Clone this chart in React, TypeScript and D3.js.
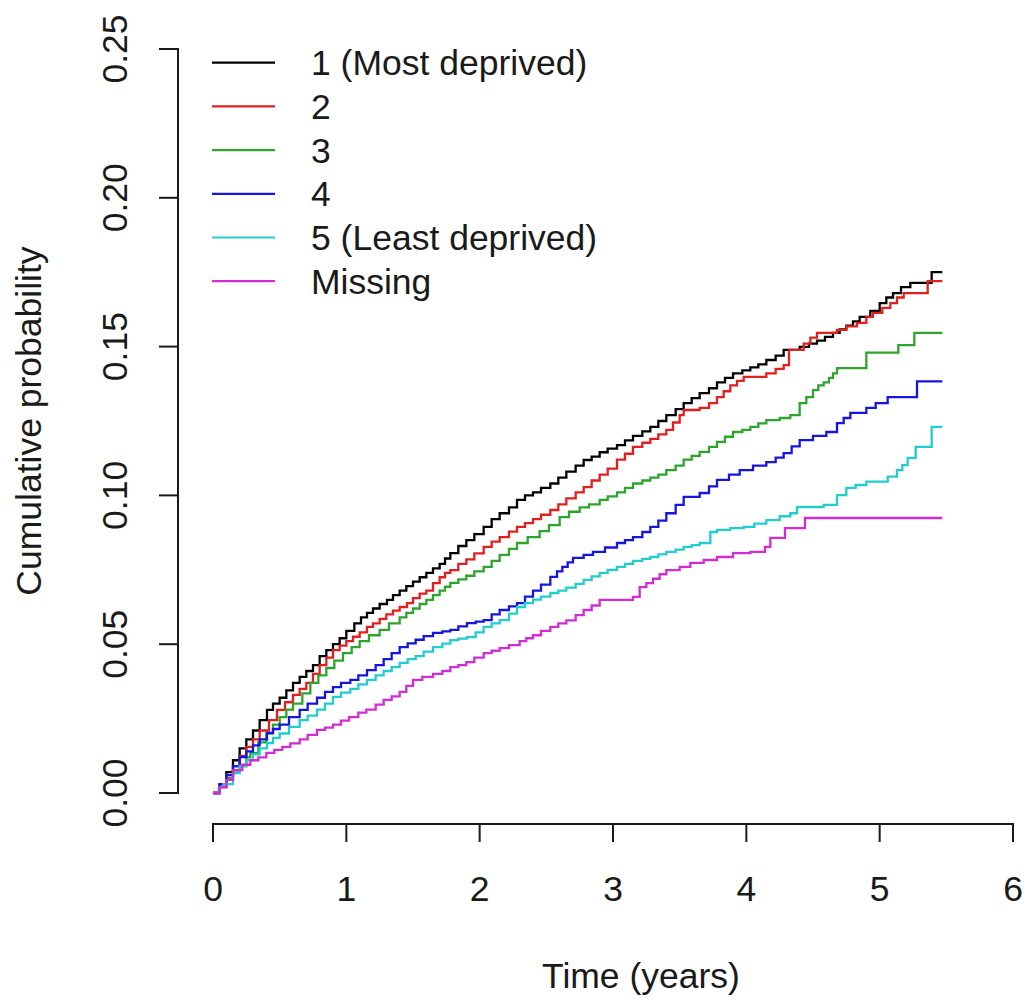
import React from "react";
import * as d3 from "d3";

const xTicks = [0, 1, 2, 3, 4, 5, 6];
const yTicks = [0, 0.05, 0.1, 0.15, 0.2, 0.25];
const yTickLabels = ["0.00", "0.05", "0.10", "0.15", "0.20", "0.25"];

const legendLabels = ["1 (Most deprived)", "2", "3", "4", "5 (Least deprived)", "Missing"];
const seriesColors = ["#000000", "#E31E1E", "#2DA52D", "#1515DD", "#22CDCD", "#D22CD2"];

// [time (years), cumulative probability] step points
const s1: [number, number][] = [
  [0, 0], [0.05, 0.003], [0.1, 0.007], [0.15, 0.011], [0.2, 0.015], [0.25, 0.018], [0.3, 0.021], [0.35, 0.0245],
  [0.405, 0.0279], [0.45, 0.03], [0.5, 0.032], [0.55, 0.0345], [0.6, 0.037], [0.65, 0.039], [0.7, 0.041], [0.75, 0.043],
  [0.8, 0.046], [0.85, 0.048], [0.9, 0.05], [0.95, 0.052], [1.0, 0.0545], [1.06, 0.057], [1.11, 0.059], [1.155, 0.0605],
  [1.2, 0.062], [1.25, 0.0635], [1.305, 0.0649], [1.35, 0.0665], [1.4, 0.068], [1.45, 0.0695], [1.5, 0.071], [1.55, 0.0725],
  [1.6, 0.074], [1.65, 0.0755], [1.7, 0.077], [1.74, 0.0788], [1.78, 0.0806], [1.84, 0.083], [1.9, 0.085], [1.96, 0.087],
  [2.03, 0.0894], [2.09, 0.092], [2.15, 0.094], [2.22, 0.096], [2.28, 0.0985], [2.34, 0.1], [2.4, 0.101], [2.46, 0.1025],
  [2.53, 0.104], [2.59, 0.106], [2.65, 0.108], [2.72, 0.11], [2.78, 0.1119], [2.84, 0.113], [2.9, 0.1145], [2.96, 0.1157],
  [3.03, 0.1169], [3.09, 0.1185], [3.15, 0.12], [3.22, 0.1215], [3.28, 0.123], [3.34, 0.125], [3.4, 0.127], [3.47, 0.129],
  [3.53, 0.131], [3.59, 0.1327], [3.65, 0.1344], [3.72, 0.136], [3.78, 0.138], [3.84, 0.1395], [3.9, 0.141], [3.97, 0.142],
  [4.03, 0.143], [4.09, 0.144], [4.15, 0.1455], [4.22, 0.147], [4.28, 0.1489], [4.4, 0.1499], [4.47, 0.151], [4.53, 0.152],
  [4.59, 0.1533], [4.65, 0.1546], [4.7, 0.1558], [4.75, 0.157], [4.8, 0.1585], [4.85, 0.16], [4.93, 0.162], [5.0, 0.1646],
  [5.05, 0.1665], [5.1, 0.168], [5.16, 0.17], [5.23, 0.1714], [5.39, 0.175], [5.47, 0.175],
];

const s2: [number, number][] = [
  [0, 0], [0.05, 0.002], [0.1, 0.006], [0.15, 0.009], [0.2, 0.0125], [0.25, 0.0155], [0.3, 0.018], [0.35, 0.021],
  [0.42, 0.0245], [0.48, 0.0279], [0.54, 0.0305], [0.6, 0.033], [0.65, 0.035], [0.7, 0.037], [0.75, 0.04], [0.8, 0.043],
  [0.85, 0.0455], [0.9, 0.048], [0.95, 0.0495], [1.0, 0.051], [1.05, 0.0525], [1.1, 0.054], [1.155, 0.0558], [1.2, 0.057],
  [1.25, 0.0585], [1.3, 0.06], [1.35, 0.0613], [1.4, 0.0625], [1.455, 0.0638], [1.5, 0.0655], [1.55, 0.067], [1.6, 0.068],
  [1.65, 0.0705], [1.7, 0.0725], [1.74, 0.074], [1.78, 0.0749], [1.84, 0.077], [1.9, 0.0785], [1.96, 0.0805], [2.03, 0.0827],
  [2.09, 0.0845], [2.15, 0.086], [2.22, 0.0878], [2.28, 0.0894], [2.34, 0.0907], [2.4, 0.092], [2.46, 0.0935], [2.53, 0.0951],
  [2.59, 0.097], [2.65, 0.099], [2.72, 0.101], [2.78, 0.1028], [2.84, 0.105], [2.9, 0.107], [2.96, 0.109], [3.03, 0.112],
  [3.09, 0.114], [3.15, 0.1163], [3.22, 0.1177], [3.28, 0.119], [3.34, 0.1205], [3.4, 0.122], [3.45, 0.1245], [3.5, 0.127],
  [3.53, 0.1287], [3.65, 0.1294], [3.72, 0.131], [3.78, 0.133], [3.83, 0.135], [3.88, 0.137], [3.93, 0.1385], [3.98, 0.1398],
  [4.15, 0.141], [4.22, 0.1425], [4.28, 0.1438], [4.32, 0.1489], [4.43, 0.151], [4.48, 0.153], [4.53, 0.1546], [4.68, 0.1556],
  [4.75, 0.1568], [4.83, 0.158], [4.9, 0.16], [4.95, 0.1613], [5.02, 0.163], [5.08, 0.1646], [5.13, 0.1665], [5.18, 0.168],
  [5.36, 0.172], [5.47, 0.172],
];

const s3: [number, number][] = [
  [0, 0], [0.05, 0.002], [0.1, 0.005], [0.15, 0.0075], [0.2, 0.009], [0.25, 0.012], [0.28, 0.0134], [0.34, 0.017],
  [0.4, 0.02], [0.45, 0.023], [0.5, 0.0255], [0.55, 0.028], [0.6, 0.03], [0.67, 0.0335], [0.73, 0.037], [0.79, 0.0395],
  [0.85, 0.042], [0.91, 0.0445], [0.975, 0.047], [1.04, 0.049], [1.1, 0.051], [1.17, 0.053], [1.25, 0.0548], [1.32, 0.057],
  [1.4, 0.059], [1.45, 0.0605], [1.5, 0.062], [1.55, 0.0635], [1.6, 0.0649], [1.65, 0.0665], [1.7, 0.068], [1.74, 0.0693],
  [1.78, 0.0706], [1.84, 0.0718], [1.9, 0.073], [1.96, 0.0745], [2.03, 0.076], [2.09, 0.078], [2.15, 0.08], [2.22, 0.082],
  [2.28, 0.084], [2.36, 0.086], [2.45, 0.088], [2.52, 0.09], [2.6, 0.0927], [2.67, 0.0945], [2.75, 0.096], [2.82, 0.097],
  [2.9, 0.0985], [2.96, 0.0997], [3.03, 0.101], [3.09, 0.1025], [3.15, 0.104], [3.22, 0.105], [3.28, 0.106], [3.34, 0.107],
  [3.4, 0.1085], [3.47, 0.11], [3.53, 0.112], [3.59, 0.1133], [3.65, 0.1146], [3.72, 0.1163], [3.78, 0.118], [3.84, 0.1197],
  [3.9, 0.1213], [3.97, 0.122], [4.03, 0.123], [4.09, 0.1242], [4.15, 0.1253], [4.25, 0.126], [4.33, 0.127], [4.4, 0.131],
  [4.45, 0.133], [4.5, 0.1354], [4.54, 0.137], [4.58, 0.138], [4.62, 0.1395], [4.65, 0.141], [4.68, 0.1428], [4.9, 0.148],
  [5.14, 0.1505], [5.26, 0.1546], [5.47, 0.1546],
];

const s4: [number, number][] = [
  [0, 0], [0.05, 0.003], [0.1, 0.006], [0.15, 0.009], [0.2, 0.0121], [0.25, 0.014], [0.3, 0.016], [0.35, 0.018],
  [0.405, 0.0202], [0.45, 0.0215], [0.5, 0.023], [0.57, 0.0255], [0.65, 0.0279], [0.71, 0.03], [0.78, 0.032], [0.84, 0.034],
  [0.9, 0.0356], [0.96, 0.037], [1.03, 0.038], [1.09, 0.0395], [1.155, 0.0413], [1.22, 0.043], [1.28, 0.045], [1.34, 0.047],
  [1.4, 0.049], [1.46, 0.0503], [1.52, 0.0515], [1.58, 0.0527], [1.65, 0.0538], [1.72, 0.0543], [1.78, 0.0548], [1.84, 0.056],
  [1.905, 0.0571], [1.97, 0.0576], [2.03, 0.0581], [2.09, 0.06], [2.15, 0.0615], [2.22, 0.0627], [2.28, 0.0638], [2.34, 0.066],
  [2.4, 0.068], [2.46, 0.07], [2.53, 0.0726], [2.58, 0.0745], [2.62, 0.076], [2.66, 0.0775], [2.7, 0.079], [2.78, 0.08],
  [2.85, 0.081], [2.94, 0.0825], [3.03, 0.084], [3.09, 0.085], [3.15, 0.086], [3.22, 0.0877], [3.28, 0.0894], [3.34, 0.0915],
  [3.4, 0.094], [3.47, 0.0968], [3.53, 0.0995], [3.65, 0.1008], [3.72, 0.103], [3.78, 0.1052], [3.87, 0.107], [3.95, 0.1085],
  [4.05, 0.11], [4.15, 0.1112], [4.22, 0.1127], [4.28, 0.1142], [4.34, 0.1165], [4.4, 0.1186], [4.5, 0.12], [4.6, 0.1213],
  [4.68, 0.1243], [4.73, 0.126], [4.78, 0.1277], [4.9, 0.1294], [4.97, 0.131], [5.06, 0.133], [5.28, 0.1383], [5.47, 0.1383],
];

const s5: [number, number][] = [
  [0, 0], [0.05, 0.002], [0.08, 0.003], [0.15, 0.0067], [0.2, 0.009], [0.25, 0.011], [0.3, 0.013], [0.35, 0.015],
  [0.405, 0.0168], [0.45, 0.0185], [0.5, 0.02], [0.57, 0.0222], [0.65, 0.0245], [0.71, 0.026], [0.78, 0.028], [0.84, 0.03],
  [0.9, 0.0323], [0.96, 0.0337], [1.03, 0.035], [1.09, 0.0365], [1.155, 0.038], [1.22, 0.0395], [1.28, 0.041], [1.34, 0.0423],
  [1.4, 0.0437], [1.46, 0.045], [1.52, 0.046], [1.58, 0.0475], [1.65, 0.049], [1.72, 0.0502], [1.78, 0.0514], [1.84, 0.0519],
  [1.905, 0.0524], [1.97, 0.054], [2.03, 0.0558], [2.09, 0.057], [2.15, 0.0581], [2.22, 0.0603], [2.28, 0.0625], [2.34, 0.0638],
  [2.4, 0.065], [2.46, 0.066], [2.53, 0.0672], [2.59, 0.068], [2.65, 0.069], [2.72, 0.0703], [2.78, 0.0716], [2.84, 0.0728],
  [2.9, 0.074], [2.96, 0.075], [3.03, 0.076], [3.09, 0.077], [3.15, 0.078], [3.22, 0.0787], [3.28, 0.0793], [3.34, 0.0802],
  [3.4, 0.081], [3.47, 0.0818], [3.53, 0.0827], [3.59, 0.0833], [3.65, 0.084], [3.73, 0.0877], [3.78, 0.0884], [3.88, 0.089],
  [3.98, 0.0894], [4.06, 0.0905], [4.15, 0.0917], [4.25, 0.093], [4.33, 0.094], [4.38, 0.0961], [4.58, 0.0968], [4.68, 0.1001],
  [4.75, 0.1025], [4.82, 0.1035], [4.9, 0.1046], [5.06, 0.1063], [5.13, 0.1085], [5.17, 0.1102], [5.21, 0.1126], [5.27, 0.1163],
  [5.39, 0.123], [5.47, 0.123],
];

const s6: [number, number][] = [
  [0, 0], [0.05, 0.002], [0.1, 0.0044], [0.15, 0.0077], [0.22, 0.0095], [0.28, 0.011], [0.34, 0.012], [0.4, 0.0135],
  [0.46, 0.0145], [0.52, 0.0155], [0.58, 0.0167], [0.65, 0.018], [0.71, 0.0195], [0.78, 0.0212], [0.84, 0.022], [0.9, 0.023],
  [0.96, 0.0243], [1.02, 0.0255], [1.09, 0.027], [1.15, 0.028], [1.22, 0.0297], [1.28, 0.0313], [1.34, 0.0325], [1.4, 0.034],
  [1.45, 0.036], [1.5, 0.038], [1.57, 0.039], [1.65, 0.04], [1.72, 0.041], [1.78, 0.0423], [1.84, 0.043], [1.9, 0.044],
  [1.96, 0.0455], [2.03, 0.047], [2.09, 0.0478], [2.15, 0.0487], [2.22, 0.0497], [2.3, 0.051], [2.35, 0.052], [2.4, 0.053],
  [2.46, 0.0545], [2.53, 0.0558], [2.59, 0.057], [2.65, 0.058], [2.72, 0.0598], [2.78, 0.0615], [2.84, 0.063], [2.9, 0.0649],
  [3.15, 0.0659], [3.2, 0.0692], [3.25, 0.0705], [3.3, 0.072], [3.35, 0.0735], [3.4, 0.0749], [3.5, 0.076], [3.58, 0.0773],
  [3.68, 0.0783], [3.78, 0.0793], [3.9, 0.0806], [4.03, 0.081], [4.14, 0.0827], [4.18, 0.0857], [4.29, 0.089], [4.44, 0.0924],
  [5.47, 0.0924],
];

const seriesData = [s1, s2, s3, s4, s5, s6];

const W = 1026;
const H = 1005;
const FONT = "'Liberation Sans', Arial, sans-serif";
const FS = 35.5;
const TXT = "#1a1a1a";

export default function App() {
  const x = d3.scaleLinear().domain([0, 6]).range([213, 1013]);
  const y = d3.scaleLinear().domain([0, 0.25]).range([793, 49]);
  const xAxisY = 824;
  const yAxisX = 178;

  const line = d3
    .line<[number, number]>()
    .x((d) => x(d[0]))
    .y((d) => y(d[1]))
    .curve(d3.curveStepAfter);

  const legendY0 = 62.7;
  const legendStep = 43.7;

  return (
    <svg
      width={W}
      height={H}
      style={{ position: "absolute", left: 0, top: 0, background: "#fff" }}
      fontFamily={FONT}
    >
      <rect x={0} y={0} width={W} height={H} fill="#fff" />
      {seriesData.map((pts, i) => (
        <path
          key={i}
          d={line(pts) || ""}
          fill="none"
          stroke={seriesColors[i]}
          strokeWidth={2.3}
          strokeLinejoin="miter"
        />
      ))}

      {/* x axis */}
      <line x1={x(0)} x2={x(6)} y1={xAxisY} y2={xAxisY} stroke={TXT} strokeWidth={2} strokeLinecap="square" />
      {xTicks.map((t) => (
        <g key={t}>
          <line x1={x(t)} x2={x(t)} y1={xAxisY} y2={xAxisY + 18} stroke={TXT} strokeWidth={2} />
          <text x={x(t)} y={901} textAnchor="middle" fontSize={FS} fill={TXT}>
            {t}
          </text>
        </g>
      ))}
      <text x={641} y={988} textAnchor="middle" fontSize={FS} fill={TXT}>
        Time (years)
      </text>

      {/* y axis */}
      <line x1={yAxisX} x2={yAxisX} y1={y(0)} y2={y(0.25)} stroke={TXT} strokeWidth={2} strokeLinecap="square" />
      {yTicks.map((v, i) => (
        <g key={v}>
          <line x1={yAxisX - 19} x2={yAxisX} y1={y(v)} y2={y(v)} stroke={TXT} strokeWidth={2} />
          <text
            transform={`translate(127, ${y(v)}) rotate(-90)`}
            textAnchor="middle"
            fontSize={FS}
            fill={TXT}
          >
            {yTickLabels[i]}
          </text>
        </g>
      ))}
      <text transform={`translate(41, 421) rotate(-90)`} textAnchor="middle" fontSize={FS} fill={TXT}>
        Cumulative probability
      </text>

      {/* legend */}
      {legendLabels.map((lab, i) => {
        const ly = legendY0 + i * legendStep;
        return (
          <g key={lab}>
            <line x1={212} x2={275} y1={ly} y2={ly} stroke={seriesColors[i]} strokeWidth={2.2} />
            <text x={311} y={ly} dy="0.35em" fontSize={FS} fill={TXT}>
              {lab}
            </text>
          </g>
        );
      })}
    </svg>
  );
}
